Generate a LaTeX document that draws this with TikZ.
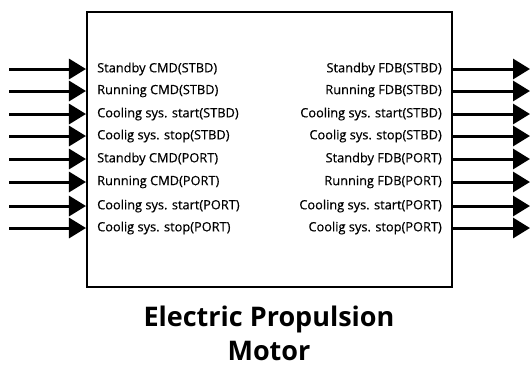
\documentclass[tikz,border=0pt]{standalone}
\usepackage{fontspec}
\setmainfont{Open Sans}
\newfontfamily\lblfont{Open Sans}[FakeBold=0.5]
\usetikzlibrary{arrows.meta}
\begin{document}
\begin{tikzpicture}[x=1bp,y=-1bp,
  lbl/.style={font=\lblfont\fontsize{12.8bp}{14bp}\selectfont, inner sep=0pt},
  sig/.style={line width=3bp, -{Triangle[length=17bp,width=20bp]}},
  box/.style={draw, line width=2bp, minimum width=365bp, minimum height=275bp, inner sep=0pt}]
\useasboundingbox (0,0) rectangle (530,367);
\node[box] (motor) at (269.5,149.5) {};
\node[font=\bfseries\fontsize{27bp}{34bp}\selectfont, align=center] (title) at (269,333) {Electric Propulsion\\Motor};
\foreach \i/\y/\l/\r in {
  1/69/Standby CMD(STBD)/Standby FDB(STBD),
  2/91/Running CMD(STBD)/Running FDB(STBD),
  3/114/Cooling sys. start(STBD)/Cooling sys. start(STBD),
  4/136/Coolig sys. stop(STBD)/Coolig sys. stop(STBD),
  5/159/Standby CMD(PORT)/Standby FDB(PORT),
  6/182/Running CMD(PORT)/Running FDB(PORT),
  7/206/Cooling sys. start(PORT)/Cooling sys. start(PORT),
  8/228/Coolig sys. stop(PORT)/Coolig sys. stop(PORT)}{
  \node[lbl, anchor=west] (in\i) at (97,\y) {\l};
  \node[lbl, anchor=east] (out\i) at (442,\y) {\r};
  \coordinate (src\i) at (9,\y);
  \coordinate (dst\i) at (530,\y);
  \draw[sig] (src\i) -- (motor.west |- in\i);
  \draw[sig] (motor.east |- out\i) -- (dst\i);
}
\end{tikzpicture}
\end{document}
